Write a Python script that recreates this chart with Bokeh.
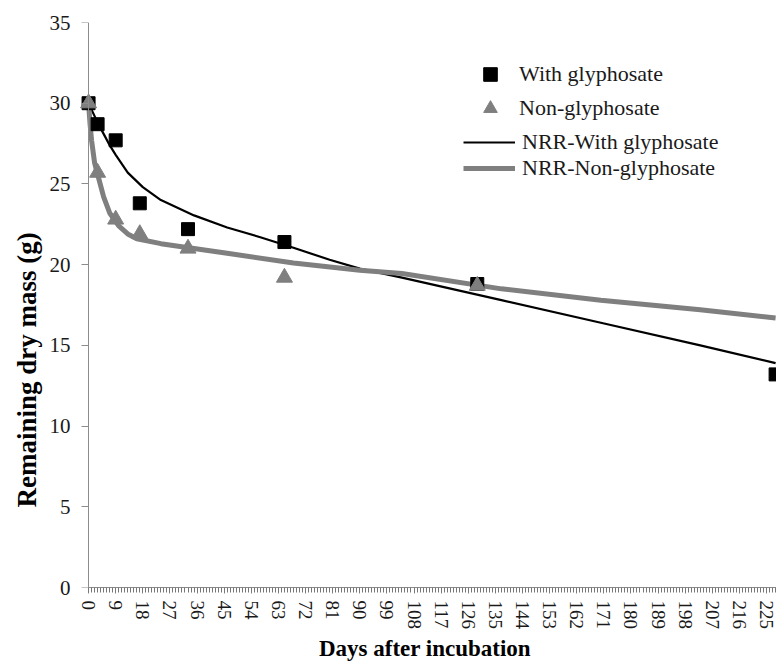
import math
from bokeh.plotting import figure
from bokeh.models import Range1d, FixedTicker, Legend, LegendItem, LinearAxis, Title
from bokeh.embed import file_html
from bokeh.resources import INLINE

# ---- data ----
days_with = [0, 3, 9, 17, 33, 65, 129, 228]
mass_with = [30.0, 28.7, 27.7, 23.8, 22.2, 21.4, 18.8, 13.2]
days_non = [0, 3, 9, 17, 33, 65, 129]
mass_non = [30.0, 25.7, 22.8, 21.9, 21.0, 19.2, 18.7]

nrr_with_days = [0, 1, 2, 3, 5, 7, 9, 13, 18, 24, 35, 46, 57, 68, 80, 90, 104, 137, 170, 203, 228]
nrr_with_mass = [30.0, 29.6, 29.2, 28.8, 28.1, 27.4, 26.8, 25.7, 24.8, 24.0, 23.05, 22.3, 21.7,
                 21.05, 20.3, 19.75, 19.2, 17.8, 16.4, 15.0, 13.9]
nrr_non_days = [0, 0.5, 1, 2, 3, 5, 7, 10, 13, 16, 24, 35, 46, 68, 90, 104, 137, 170, 203, 228]
nrr_non_mass = [30.0, 28.7, 27.7, 26.3, 25.6, 24.2, 23.2, 22.4, 21.9, 21.6, 21.3, 21.0, 20.7,
                20.1, 19.65, 19.45, 18.5, 17.8, 17.2, 16.7]

x_major_ticks = list(range(0, 226, 9))
x_minor_ticks = list(range(0, 229))
y_ticks = [0, 5, 10, 15, 20, 25, 30, 35]

labels = ["With glyphosate", "Non-glyphosate", "NRR-With glyphosate", "NRR-Non-glyphosate"]
x_title = "Days after incubation"
y_title = "Remaining dry mass (g)"

FONT = "'Liberation Serif'"
AXIS_GREY = "#8c8c8c"
GREY = "#7f7f7f"

p = figure(width=776, height=664, output_backend="svg", toolbar_location=None,
           x_range=Range1d(-5, 228.3), y_range=Range1d(0, 35), y_axis_location=None,
           min_border_left=73, min_border_right=0, min_border_top=22, min_border_bottom=77)
p.outline_line_color = None
p.grid.visible = False
p.background_fill_color = "white"

r_nrr_with = p.line(nrr_with_days, nrr_with_mass, line_color="black", line_width=2.2)
r_nrr_non = p.line(nrr_non_days, nrr_non_mass, line_color=GREY, line_width=5)
r_with = p.scatter(days_with, mass_with, marker="square", size=13, fill_color="black", line_color="black")
r_non = p.scatter(days_non, mass_non, marker="triangle", size=16, fill_color=GREY, line_color=GREY)

# x axis
xa = p.xaxis[0]
xa.ticker = FixedTicker(ticks=x_major_ticks, minor_ticks=x_minor_ticks)
xa.bounds = (0, 228.3)
xa.axis_label = x_title
xa.axis_label_text_font = FONT
xa.axis_label_text_font_style = "bold"
xa.axis_label_text_font_size = "23px"
xa.axis_label_text_color = "black"
xa.axis_label_standoff = 4
xa.major_label_orientation = "vertical"
xa.major_label_standoff = 7
xa.major_label_text_font = FONT
xa.major_label_text_font_size = "19px"
xa.major_label_text_color = "#1a1a1a"
xa.major_tick_in = 0
xa.major_tick_out = 6
xa.minor_tick_in = 0
xa.minor_tick_out = 5
xa.axis_line_color = AXIS_GREY
xa.major_tick_line_color = AXIS_GREY
xa.minor_tick_line_color = "#777777"

# y axis: labels in the side panel, line + ticks fixed at day 0
ylab = LinearAxis(ticker=FixedTicker(ticks=y_ticks, minor_ticks=[]),
                  axis_line_color=None, major_tick_line_color=None, minor_tick_line_color=None,
                  major_tick_in=0, major_tick_out=0, minor_tick_in=0, minor_tick_out=0,
                  major_label_standoff=3, major_label_text_font=FONT,
                  major_label_text_font_size="21px", major_label_text_color="#1a1a1a")
p.add_layout(ylab, "left")
yline = LinearAxis(ticker=FixedTicker(ticks=y_ticks, minor_ticks=[]), fixed_location=0,
                   axis_line_color=AXIS_GREY, major_tick_line_color=AXIS_GREY,
                   minor_tick_line_color=None, major_tick_in=0, major_tick_out=7,
                   minor_tick_in=0, minor_tick_out=0, major_label_standoff=0,
                   major_label_overrides={t: "" for t in y_ticks},
                   major_label_text_font_size="1px")
p.add_layout(yline, "left")
p.add_layout(Title(text=y_title, align="left", offset=80, text_font=FONT,
                   text_font_style="bold", text_font_size="27px", text_color="black",
                   standoff=9), "left")

leg1 = Legend(items=[LegendItem(label=labels[0], renderers=[r_with]),
                     LegendItem(label=labels[1], renderers=[r_non])],
              location=(392, 462), orientation="vertical",
              glyph_width=50, glyph_height=34, label_height=34, spacing=0,
              padding=0, margin=0, label_standoff=4,
              label_text_font=FONT, label_text_font_size="22px", label_text_color="#1a1a1a",
              background_fill_alpha=0, border_line_alpha=0)
leg2 = Legend(items=[LegendItem(label=labels[2], renderers=[r_nrr_with]),
                     LegendItem(label=labels[3], renderers=[r_nrr_non])],
              location=(390, 406), orientation="vertical",
              glyph_width=52, glyph_height=22, label_height=22, spacing=-6,
              padding=0, margin=0, label_standoff=7,
              label_text_font=FONT, label_text_font_size="22px", label_text_color="#1a1a1a",
              background_fill_alpha=0, border_line_alpha=0)
p.add_layout(leg1)
p.add_layout(leg2)

open("out.html", "w").write(file_html(p, INLINE))
